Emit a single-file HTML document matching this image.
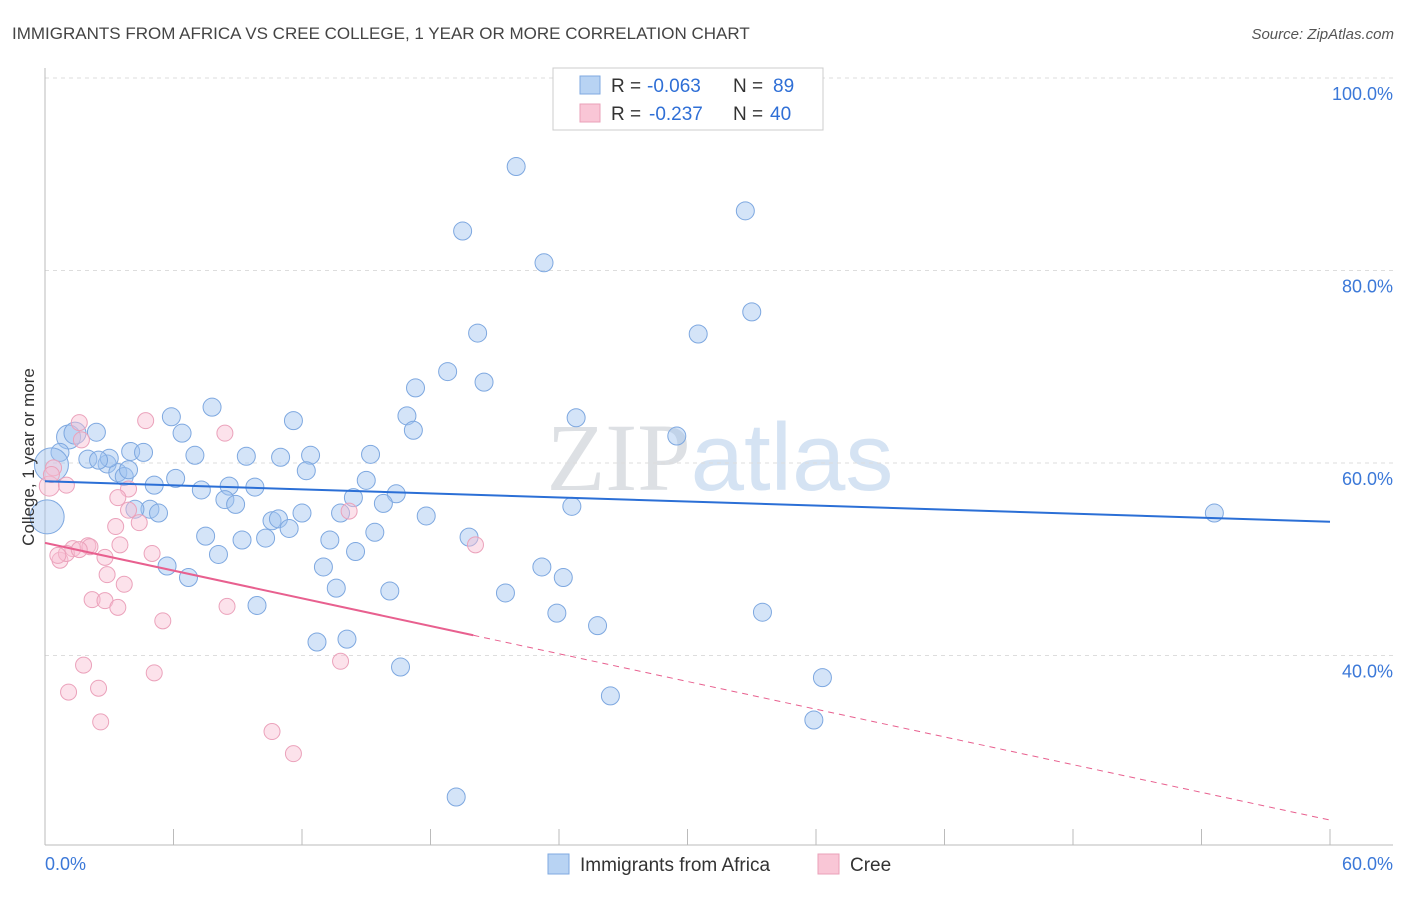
<!DOCTYPE html>
<html><head><meta charset="utf-8">
<style>
body{margin:0;background:#fff;font-family:"Liberation Sans",sans-serif;}
svg text{font-family:"Liberation Sans",sans-serif;}
</style></head>
<body>
<svg id="chart" width="1406" height="892" xmlns="http://www.w3.org/2000/svg">
<text x="12" y="39" font-size="17" fill="#444">IMMIGRANTS FROM AFRICA VS CREE COLLEGE, 1 YEAR OR MORE CORRELATION CHART</text>
<text x="1394" y="39" font-size="15" fill="#555" font-style="italic" text-anchor="end">Source: ZipAtlas.com</text>
<text x="720" y="490" font-size="96" text-anchor="middle" fill="#e4e8ee"><tspan font-family="Liberation Serif" fill="#dde0e4">ZIP</tspan><tspan fill="#d5e3f3">atlas</tspan></text>
<g id="grid"></g>
<g id="axes"></g>
<g id="points"></g>
<g id="trends"></g>
<text transform="translate(34,457) rotate(-90)" font-size="17" fill="#333" text-anchor="middle">College, 1 year or more</text>
<g>
<rect x="553" y="68" width="270" height="62" fill="#fff" stroke="#ccc"/>
<rect x="580" y="76" width="20" height="18" fill="#b8d3f3" stroke="#7fa9e0"/>
<rect x="580" y="104" width="20" height="18" fill="#f9c6d6" stroke="#eaa0b8"/>
<text x="611" y="92" font-size="19" fill="#333">R =</text>
<text x="647" y="92" font-size="19" fill="#2f6fd6">-0.063</text>
<text x="733" y="92" font-size="19" fill="#333">N =</text>
<text x="773" y="92" font-size="19" fill="#2f6fd6">89</text>
<text x="611" y="120" font-size="19" fill="#333">R =</text>
<text x="649" y="120" font-size="19" fill="#2f6fd6">-0.237</text>
<text x="733" y="120" font-size="19" fill="#333">N =</text>
<text x="770" y="120" font-size="19" fill="#2f6fd6">40</text>
</g>
<g>
<rect x="548" y="854" width="21" height="20" fill="#b8d3f3" stroke="#7fa9e0"/>
<text x="580" y="871" font-size="19" fill="#333">Immigrants from Africa</text>
<rect x="818" y="854" width="21" height="20" fill="#f9c6d6" stroke="#eaa0b8"/>
<text x="850" y="871" font-size="19" fill="#333">Cree</text>
</g>
</svg>
<script>
const yTicks=[40,60,80,100];
const yTickLabels=["40.0%","60.0%","80.0%","100.0%"];
const xTicks=[0,6,12,18,24,30,36,42,48,54,60];
const xEndLabels=["0.0%","60.0%"];
const blueX=[22.0,19.5,32.7,23.3,20.2,30.5,33.0,18.8,20.5,17.3,5.9,7.8,16.9,24.8,11.6,17.2,6.4,2.4,1.1,0.7,29.5,4.0,4.6,2.0,2.9,3.4,3.7,9.4,11.0,7.0,12.4,15.2,6.1,12.2,15.0,7.3,8.6,9.8,5.1,8.4,8.9,14.4,16.4,15.8,24.6,4.9,5.3,4.2,10.6,10.9,11.4,12.0,13.8,17.8,7.5,9.2,10.3,13.3,15.4,19.8,8.1,14.5,5.7,13.0,6.7,23.2,24.2,13.6,16.1,21.5,9.9,23.9,33.5,25.8,12.7,14.1,16.6,36.3,26.4,35.9,19.2,54.6,0.3,0.1,1.4,3.0,2.5,3.9];
const blueY=[90.8,84.1,86.2,80.8,73.5,73.4,75.7,69.5,68.4,67.8,64.8,65.8,64.9,64.7,64.4,63.4,63.1,63.2,62.7,61.1,62.8,61.2,61.1,60.4,59.9,59.0,58.6,60.7,60.6,60.8,60.8,60.9,58.4,59.2,58.2,57.2,57.6,57.5,57.7,56.2,55.7,56.4,56.8,55.8,55.5,55.2,54.8,55.2,54.0,54.2,53.2,54.8,54.8,54.5,52.4,52.0,52.2,52.0,52.8,52.3,50.5,50.8,49.3,49.2,48.1,49.2,48.1,47.0,46.7,46.5,45.2,44.4,44.5,43.1,41.4,41.7,38.8,37.7,35.8,33.3,25.3,54.8,59.8,54.4,63.1,60.5,60.3,59.3];
const blueR=[9,9,9,9,9,9,9,9,9,9,9,9,9,9,9,9,9,9,12,9,9,9,9,9,9,9,9,9,9,9,9,9,9,9,9,9,9,9,9,9,9,9,9,9,9,9,9,9,9,9,9,9,9,9,9,9,9,9,9,9,9,9,9,9,9,9,9,9,9,9,9,9,9,9,9,9,9,9,9,9,9,9,17,17,11,9,9,9];
const pinkX=[1.6,4.7,8.4,1.7,0.4,0.2,1.0,3.9,3.4,4.4,3.3,14.2,20.1,3.5,2.0,1.3,2.8,0.7,5.0,2.9,3.7,2.2,2.8,3.4,8.5,5.5,1.8,13.8,1.1,2.5,5.1,2.6,10.6,11.6,3.9,1.0,0.3,2.1,0.6,1.6];
const pinkY=[64.2,64.4,63.1,62.4,59.5,57.6,57.7,57.3,56.4,53.8,53.4,55.0,51.5,51.5,51.4,51.1,50.2,49.9,50.6,48.4,47.4,45.8,45.7,45.0,45.1,43.6,39.0,39.4,36.2,36.6,38.2,33.1,32.1,29.8,55.1,50.6,58.8,51.3,50.4,51.0];
const blueTrend=[58.1,53.9];
const pinkTrend=[51.7,22.9];
const pinkSolidEnd=20;

const NS="http://www.w3.org/2000/svg";
const X0=45,X1=1330;
const sx=v=>X0+(v/60)*(X1-X0);
const sy=v=>463-(v-60)*9.625;
function mk(tag,attrs,parent){const e=document.createElementNS(NS,tag);for(const k in attrs)e.setAttribute(k,attrs[k]);parent.appendChild(e);return e;}
const grid=document.getElementById('grid'),axes=document.getElementById('axes'),pts=document.getElementById('points'),tr=document.getElementById('trends');
yTicks.forEach((t,i)=>{
 const l=mk('line',{x1:45,x2:1393,y1:sy(t),y2:sy(t),stroke:'#ddd','stroke-dasharray':'4,4'},grid);
 
 
 const tx=mk('text',{x:1393,y:sy(t)+22,'font-size':18,fill:'#3b78d8','text-anchor':'end'},grid);
 tx.textContent=yTickLabels[i];
 
 
});
const ax=mk('line',{x1:45,x2:45,y1:68,y2:845,stroke:'#bbb'},axes);


const bx=mk('line',{x1:45,x2:1393,y1:845,y2:845,stroke:'#bbb'},axes);


xTicks.forEach(t=>{
 const l=mk('line',{x1:sx(t),x2:sx(t),y1:829,y2:845,stroke:'#bbb'},axes);
 
 
});
const xl0=mk('text',{x:45,y:870,'font-size':18,fill:'#3b78d8'},axes);xl0.textContent=xEndLabels[0];


const xl1=mk('text',{x:1393,y:870,'font-size':18,fill:'#3b78d8','text-anchor':'end'},axes);xl1.textContent=xEndLabels[1];


blueX.forEach((v,i)=>{
 const c=mk('circle',{cx:sx(v),cy:sy(blueY[i]),r:blueR[i]||9,fill:'rgba(160,196,240,0.45)',stroke:'#7ea8e0','stroke-width':1},pts);
 
 
});
pinkX.forEach((v,i)=>{
 const c=mk('circle',{cx:sx(v),cy:sy(pinkY[i]),r:i==5?10:8,fill:'rgba(248,190,210,0.45)',stroke:'#eba2bb','stroke-width':1},pts);
 
 
});
const bl=mk('line',{x1:sx(0),y1:sy(blueTrend[0]),x2:sx(60),y2:sy(blueTrend[1]),stroke:'#2b6fd6','stroke-width':2},tr);


const py=x=>pinkTrend[0]+(pinkTrend[1]-pinkTrend[0])*x/60;
const ps=mk('line',{x1:sx(0),y1:sy(py(0)),x2:sx(pinkSolidEnd),y2:sy(py(pinkSolidEnd)),stroke:'#e8608f','stroke-width':2},tr);


const pd=mk('line',{x1:sx(pinkSolidEnd),y1:sy(py(pinkSolidEnd)),x2:sx(60),y2:sy(py(60)),stroke:'#e8608f','stroke-width':1,'stroke-dasharray':'6,5'},tr);


</script>
</body></html>
